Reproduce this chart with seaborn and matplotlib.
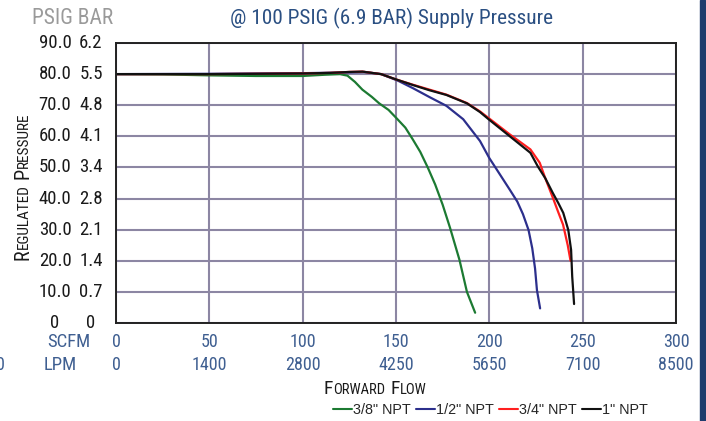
import matplotlib
matplotlib.use("Agg")
import matplotlib.pyplot as plt
import matplotlib.transforms as mtransforms
from matplotlib import font_manager
from matplotlib.font_manager import FontProperties
from matplotlib.lines import Line2D
from matplotlib.patches import Rectangle
import numpy as np
import pandas as pd
import seaborn as sns

# Data (SCFM vs regulated PSIG)
green_scfm = [0, 25, 50, 75, 100, 112, 120, 124, 128, 132, 137, 141, 146, 150, 155, 159,
              163, 167, 171, 175, 179, 184, 188, 192.4]
green_psig = [80.0, 79.9, 79.6, 79.4, 79.4, 79.8, 80.0, 79.5, 77.5, 75.0, 72.7, 70.6, 68.5,
              66.0, 62.8, 59.0, 55.0, 50.0, 44.5, 38.0, 30.5, 20.3, 10.0, 3.3]

blue_scfm = [0, 50, 100, 120, 133, 142, 151, 159, 168, 177, 186, 195, 200, 204, 211, 215,
             218, 221, 223, 224.5, 225.5, 227.2]
blue_psig = [80.0, 80.1, 80.3, 80.5, 80.7, 80.0, 77.9, 75.5, 72.6, 69.8, 65.5, 58.5, 53.0,
             49.3, 42.8, 39.0, 35.0, 29.9, 24.0, 17.5, 10.6, 4.7]

red_scfm = [0, 50, 100, 115, 125, 132, 142, 150, 159, 168, 177, 188, 195, 200, 211, 222,
            227, 230, 234, 237, 239.5, 242, 243.5]
red_psig = [80.0, 80.0, 80.2, 80.4, 80.7, 80.8, 80.0, 78.3, 76.6, 75.0, 73.4, 70.7, 68.0,
            65.7, 60.6, 55.8, 51.5, 46.5, 40.3, 35.5, 31.6, 25.0, 20.0]

black_scfm = [0, 50, 100, 115, 125, 132, 142, 150, 159, 168, 177, 188, 195, 200, 211, 222,
              226, 230, 234, 237, 239.6, 242.3, 243.8, 244.4, 245.4]
black_psig = [80.0, 80.0, 80.2, 80.4, 80.7, 80.8, 80.0, 78.3, 76.5, 74.8, 73.3, 70.6, 67.8,
              65.3, 60.0, 54.7, 50.3, 46.5, 41.8, 38.5, 35.4, 29.9, 23.5, 14.9, 6.1]

series_names = ['3/8" NPT', '1/2" NPT', '3/4" NPT', '1" NPT']
series_colors = ["#1c7a32", "#2c2f8c", "#ff1f1f", "#111111"]

scfm_ticks = [0, 50, 100, 150, 200, 250, 300]
lpm_labels = ["0", "1400", "2800", "4250", "5650", "7100", "8500"]
psig_ticks = [0, 10, 20, 30, 40, 50, 60, 70, 80, 90]
psig_labels = ["0", "10.0", "20.0", "30.0", "40.0", "50.0", "60.0", "70.0", "80.0", "90.0"]
bar_labels = ["0", "0.7", "1.4", "2.1", "2.8", "3.4", "4.1", "4.8", "5.5", "6.2"]

rows = []
for name, xs, ys in zip(series_names,
                        [green_scfm, blue_scfm, red_scfm, black_scfm],
                        [green_psig, blue_psig, red_psig, black_psig]):
    for x, y in zip(xs, ys):
        rows.append({"scfm": x, "psig": y, "size": name})
df = pd.DataFrame(rows)

sns.set_theme(style="white")


def pick_condensed_font():
    """Find a narrow/condensed regular face among installed fonts."""
    entries = font_manager.fontManager.ttflist
    prefs = ["Liberation Sans Narrow", "Roboto Condensed", "Open Sans Condensed",
             "Noto Sans", "Roboto", "Open Sans", "Inter", "DejaVu Sans"]
    cands = [f for f in entries
             if f.style == "normal" and f.weight in (400, "normal", "regular")
             and (str(f.stretch) in ("condensed", "semi-condensed", "extra-condensed")
                  or "Narrow" in f.name or "Condensed" in f.name)]
    for p in prefs:
        for st in ("condensed", "semi-condensed", "extra-condensed"):
            for f in cands:
                if f.name == p and str(f.stretch) == st:
                    return f.name, f.stretch
        for f in cands:
            if f.name == p:
                return f.name, f.stretch
    if cands:
        return cands[0].name, cands[0].stretch
    return "DejaVu Sans", "condensed"


FONT, STRETCH = pick_condensed_font()
plt.rcParams["font.family"] = [FONT, "DejaVu Sans"]
plt.rcParams["font.stretch"] = STRETCH

W, H = 706, 421
fig = plt.figure(figsize=(W / 100, H / 100), dpi=100)
ax = fig.add_axes([116 / W, 1 - 323 / H, (676 - 116) / W, (323 - 43) / H])

sns.lineplot(data=df, x="scfm", y="psig", hue="size", palette=series_colors,
             hue_order=series_names, estimator=None, sort=False, lw=1.6, ax=ax,
             legend=False)

ax.set_xlim(0, 300)
ax.set_ylim(0, 90)
ax.set_xticks(scfm_ticks)
ax.set_yticks(psig_ticks)
ax.set_xticklabels([str(t) for t in scfm_ticks])
ax.set_yticklabels([])
ax.tick_params(axis="x", length=0, pad=7, labelsize=13, labelcolor="#3f5f91")
ax.tick_params(axis="y", length=0)
ax.set_xlabel("")
ax.set_ylabel("")
ax.grid(True, color="#8c86a3", lw=1.5)
ax.set_axisbelow(True)
for sp in ax.spines.values():
    sp.set_color("#222222")
    sp.set_linewidth(1.4)

blue_txt = "#3f5f91"

# y tick label columns (PSIG and BAR)
ytr = mtransforms.blended_transform_factory(fig.transFigure, ax.transData)
for v, p, b in zip(psig_ticks, psig_labels, bar_labels):
    ax.text(55 / W, v, p, transform=ytr, ha="center", va="center", fontsize=13.5, color="#1a1a1a")
    ax.text(91 / W, v, b, transform=ytr, ha="center", va="center", fontsize=13.5, color="#1a1a1a")

# LPM row
xtr = mtransforms.blended_transform_factory(ax.transData, fig.transFigure)
for v, lab in zip(scfm_ticks, lpm_labels):
    ax.text(v, 1 - 365 / H, lab, transform=xtr, ha="center", va="center", fontsize=13, color=blue_txt)

fig.text(47 / W, 1 - 342 / H, "SCFM", ha="left", va="center", fontsize=13.5, color=blue_txt)
fig.text(44 / W, 1 - 365 / H, "LPM", ha="left", va="center", fontsize=13.5, color=blue_txt)
fig.text(-4 / W, 1 - 365 / H, "0", ha="left", va="center", fontsize=13, color=blue_txt)

fig.text(32 / W, 1 - 18 / H, "PSIG BAR", ha="left", va="center", fontsize=15.5, color="#9a9a9a")
fig.text(392 / W, 1 - 18 / H, "@ 100 PSIG (6.9 BAR) Supply Pressure", ha="center", va="center",
         fontsize=15.3, color="#2a4f82")

renderer = fig.canvas.get_renderer()


def text_width(s, size):
    t = fig.text(0, 0, s, fontsize=size)
    w = t.get_window_extent(renderer).width
    t.remove()
    return w


def small_caps(parts, cx, cy, vertical=False, color="#1a1a1a", gap=5):
    widths = [text_width(s, sz) if s else gap for s, sz in parts]
    total = sum(widths)
    pos = (cy if vertical else cx) - total / 2
    for (s, sz), w in zip(parts, widths):
        if s:
            if vertical:
                fig.text(cx / W, pos / H, s, fontsize=sz, color=color, rotation=90,
                         rotation_mode="anchor", ha="left", va="baseline")
            else:
                fig.text(pos / W, cy / H, s, fontsize=sz, color=color,
                         ha="left", va="baseline")
        pos += w


small_caps([("R", 14.5), ("EGULATED", 11), ("", 0), ("P", 14.5), ("RESSURE", 11)],
           28, H - 186, vertical=True)
small_caps([("F", 14), ("ORWARD", 10.5), ("", 0), ("F", 14), ("LOW", 10.5)],
           375, H - 394)

# legend uses a regular-width face
leg_font = FontProperties(family=["Liberation Sans", "DejaVu Sans"], stretch="normal", size=10.4)
handles = [Line2D([0], [0], color=c, lw=1.5) for c in series_colors]
fig.legend(handles, series_names, loc="center left", bbox_to_anchor=(333 / W, 1 - 410 / H),
           bbox_transform=fig.transFigure, ncol=4, frameon=False, prop=leg_font,
           handlelength=1.3, handletextpad=0.1, columnspacing=0.35, borderpad=0,
           borderaxespad=0)

fig.patches.append(Rectangle((700 / W, 0), 5 / W, 1, transform=fig.transFigure,
                             color="#1f3c6d", zorder=5))

fig.savefig("out.png", dpi=100)
